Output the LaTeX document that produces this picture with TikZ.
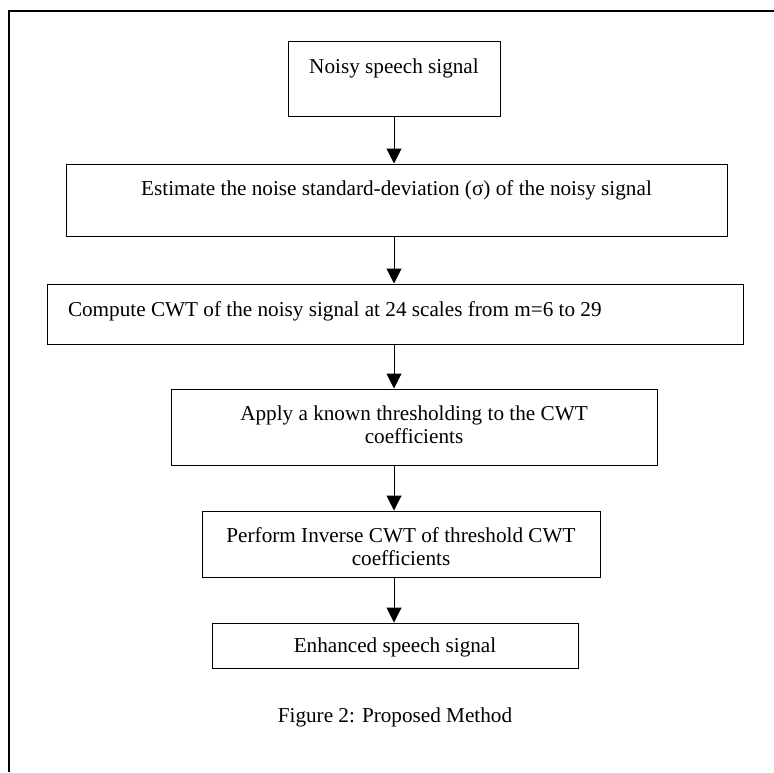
\documentclass[tikz,border=0pt]{standalone}
\usepackage{fontspec}
\setmainfont{Liberation Serif}
\usetikzlibrary{arrows.meta}
\begin{document}
\begin{tikzpicture}[x=0.5pt,y=-0.5pt,
    stage/.style={draw,rectangle,line width=0.5pt,inner sep=0pt,align=center,
      font=\fontsize{10.6}{11.8}\selectfont,anchor=base,
      execute at begin node={\spaceskip=.25em\xspaceskip=.25em}},
    flow/.style={line width=0.5pt,-{Triangle[width=7.5pt,length=7.5pt]}},
    frame/.style={line width=0.6pt}]
  \useasboundingbox (0,0) rectangle (774,772);
  \draw[frame] (774,11) -- (9,11) -- (9,772);
  \node[stage,text width=106pt,text height=16pt,text depth=21.5pt] (noisy) at (394,73)
    {Noisy speech signal};
  \node[stage,text width=330.5pt,text height=15.5pt,text depth=20.5pt] (estimate) at (396.5,195)
    {Estimate the noise standard-deviation (σ) of the noisy signal};
  \node[stage,align=left,inner xsep=10.5pt,text width=327pt,text height=16pt,text depth=14pt] (cwt) at (395,316)
    {Compute CWT of the noisy signal at 24 scales from m=6 to 29};
  \node[stage,text width=243pt,text height=15.5pt,text depth=22.5pt] (thresh) at (414,420)
    {Apply a known thresholding to the CWT\\coefficients};
  \node[stage,text width=199pt,text height=15.5pt,text depth=17.5pt] (inverse) at (401,542)
    {Perform Inverse CWT of threshold CWT\\coefficients};
  \node[stage,text width=183pt,text height=14.5pt,text depth=8pt] (enhanced) at (395,652)
    {Enhanced speech signal};
  \node[anchor=base,font=\fontsize{10.6}{11.8}\selectfont] (caption) at (395,722)
    {Figure 2: Proposed Method};
  \coordinate (spine) at (394,0);
  \foreach \a/\b in {noisy/estimate,estimate/cwt,cwt/thresh,thresh/inverse,inverse/enhanced} {%
    \draw[flow] (\a.south -| spine) -- (\b.north -| spine);
  }
\end{tikzpicture}
\end{document}
